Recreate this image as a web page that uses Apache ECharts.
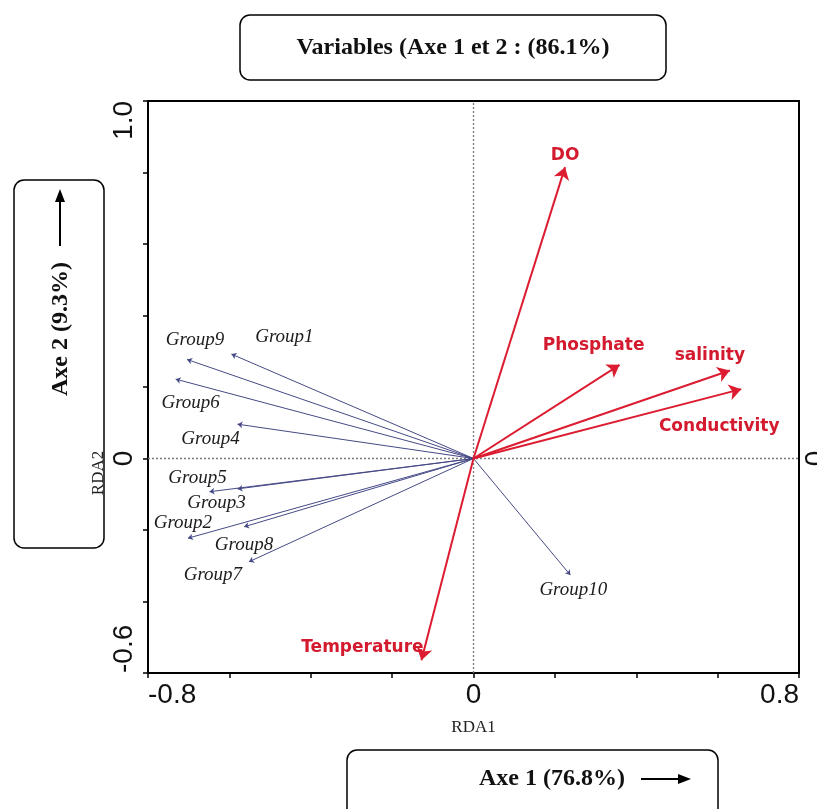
<!DOCTYPE html>
<html>
<head>
<meta charset="utf-8">
<script src="https://cdn.jsdelivr.net/npm/echarts@6/dist/echarts.min.js"></script>
<style>
  html, body { margin: 0; padding: 0; background: #fff; }
  #chart { width: 817px; height: 809px; }
</style>
</head>
<body>
<div id="chart"></div>
<script>
// Environmental variables (red vectors): RDA1, RDA2 loadings
const envNames = ['DO', 'Phosphate', 'salinity', 'Conductivity', 'Temperature'];
const envRDA1  = [0.225, 0.359, 0.630, 0.658, -0.128];
const envRDA2  = [0.815, 0.262, 0.246, 0.194, -0.564];

// Groups (blue vectors): RDA1, RDA2 scores
const groupNames = ['Group1', 'Group9', 'Group6', 'Group4', 'Group5', 'Group3', 'Group2', 'Group8', 'Group7', 'Group10'];
const groupRDA1  = [-0.595, -0.704, -0.732, -0.580, -0.649, -0.580, -0.702, -0.564, -0.552, 0.238];
const groupRDA2  = [0.292, 0.277, 0.222, 0.096, -0.093, -0.085, -0.223, -0.191, -0.289, -0.326];

// Axis ranges and the tick values that carry a label
const xRange = [-0.8, 0.8];
const yRange = [-0.6, 1.0];
const xLabelled = [-0.8, 0, 0.8];
const yLabelled = [-0.6, 0, 1.0];

// Label placement around each arrow tip (pixels)
const envLabelOffset = {
  'DO': [0, -12], 'Phosphate': [-26, -19], 'salinity': [-20, -15],
  'Conductivity': [-22, 37], 'Temperature': [-59, -13]
};
const groupLabelOffset = {
  'Group1': [53, -17], 'Group9': [8, -19], 'Group6': [15, 24], 'Group4': [-27, 15],
  'Group5': [-12, -14], 'Group3': [-21, 14], 'Group2': [-5, -15], 'Group8': [0, 18],
  'Group7': [-36, 13], 'Group10': [3, 15]
};

const RED = '#dc1c30';
const BLUE = '#454a86';

function fmtTick(list, text) {
  return function (v) {
    for (let i = 0; i < list.length; i++) {
      if (Math.abs(v - list[i]) < 1e-9) return text(list[i]);
    }
    return '';
  };
}
const tickText = v => (v === 0 ? '0' : v.toFixed(1));

const chart = echarts.init(document.getElementById('chart'), null, { renderer: 'canvas' });

const envLines = envNames.map((n, i) => ({ coords: [[0, 0], [envRDA1[i], envRDA2[i]]] }));
const groupLines = groupNames.map((n, i) => ({ coords: [[0, 0], [groupRDA1[i], groupRDA2[i]]] }));

const envTips = envNames.map((n, i) => ({
  name: n, value: [envRDA1[i], envRDA2[i]],
  label: { offset: envLabelOffset[n] }
}));
const groupTips = groupNames.map((n, i) => ({
  name: n, value: [groupRDA1[i], groupRDA2[i]],
  label: { offset: groupLabelOffset[n] }
}));

const axisLabelFont = { fontFamily: 'Liberation Sans', fontSize: 28, color: '#111' };

const option = {
  backgroundColor: '#fff',
  animation: false,
  grid: { left: 148, right: 18, top: 101, bottom: 136, containLabel: false, outerBoundsMode: 'none',
          show: true, borderColor: '#000', borderWidth: 2 },
  xAxis: [{
    type: 'value', min: xRange[0], max: xRange[1], interval: 0.2, position: 'bottom',
    axisLine: { show: true, onZero: false, lineStyle: { color: '#000', width: 2 } },
    axisTick: { show: true, length: 5, lineStyle: { color: '#000', width: 1.5 } },
    splitLine: { show: false },
    axisLabel: Object.assign({
      margin: 8, formatter: fmtTick(xLabelled, tickText),
      alignMinLabel: 'left', alignMaxLabel: 'right', showMinLabel: true, showMaxLabel: true
    }, axisLabelFont),
    name: 'RDA1', nameLocation: 'middle', nameGap: 46, nameMoveOverlap: false,
    nameTextStyle: { fontFamily: 'Liberation Serif', fontSize: 17, color: '#222' }
  }],
  yAxis: [{
    type: 'value', min: yRange[0], max: yRange[1], interval: 0.2, position: 'left',
    axisLine: { show: true, onZero: false, lineStyle: { color: '#000', width: 2 } },
    axisTick: { show: true, length: 5, lineStyle: { color: '#000', width: 1.5 } },
    splitLine: { show: false },
    axisLabel: Object.assign({
      margin: 10, rotate: 90, formatter: fmtTick(yLabelled, tickText),
      alignMinLabel: 'left', alignMaxLabel: 'right', showMinLabel: true, showMaxLabel: true
    }, axisLabelFont),
    name: 'RDA2', nameLocation: 'middle', nameRotate: 90, nameGap: 41, nameMoveOverlap: false,
    nameTextStyle: { fontFamily: 'Liberation Serif', fontSize: 17, color: '#222', padding: [0, 172, 0, 0] }
  }, {
    type: 'value', min: yRange[0], max: yRange[1], interval: 0.2, position: 'right',
    axisLine: { show: true, onZero: false, lineStyle: { color: '#000', width: 2 } },
    axisTick: { show: false },
    splitLine: { show: false },
    axisLabel: Object.assign({
      margin: 3, rotate: 90, formatter: fmtTick([0], tickText)
    }, axisLabelFont)
  }],
  series: [
    { // dotted reference lines through the origin
      type: 'line', silent: true, symbol: 'none', data: [[0, yRange[0]], [0, yRange[1]]],
      lineStyle: { color: '#7a7a7a', width: 1.3, type: [2, 2] }, z: 1
    },
    {
      type: 'line', silent: true, symbol: 'none', data: [[xRange[0], 0], [xRange[1], 0]],
      lineStyle: { color: '#7a7a7a', width: 1.3, type: [2, 2] }, z: 1
    },
    { // group vectors
      type: 'lines', coordinateSystem: 'cartesian2d', silent: true,
      symbol: ['none', 'arrow'], symbolSize: 5,
      lineStyle: { color: BLUE, width: 1, opacity: 1 },
      data: groupLines, z: 2
    },
    { // environmental vectors
      type: 'lines', coordinateSystem: 'cartesian2d', silent: true,
      symbol: ['none', 'arrow'], symbolSize: [8, 12],
      lineStyle: { color: RED, width: 2, opacity: 1 },
      data: envLines, z: 3
    },
    { // group names
      type: 'scatter', symbolSize: 0, silent: true, data: groupTips, z: 4,
      itemStyle: { color: '#1c1c1c', opacity: 1 },
      label: { show: true, position: 'inside', formatter: '{b}', opacity: 1,
               textBorderWidth: 0, textShadowBlur: 0,
               fontFamily: 'Liberation Serif', fontStyle: 'italic', fontSize: 19, color: '#1c1c1c' }
    },
    { // variable names
      type: 'scatter', symbolSize: 0, silent: true, data: envTips, z: 4,
      itemStyle: { color: '#d41a2e', opacity: 1 },
      label: { show: true, position: 'inside', formatter: '{b}', opacity: 1,
               textBorderWidth: 0, textShadowBlur: 0,
               fontFamily: 'DejaVu Sans', fontWeight: 'bold', fontSize: 17, color: '#d41a2e' }
    }
  ],
  graphic: [
    // title box
    { type: 'rect', shape: { x: 240, y: 15, width: 426, height: 65, r: 10 },
      style: { fill: '#fff', stroke: '#000', lineWidth: 1.5 } },
    { type: 'text', x: 453, y: 48,
      style: { text: 'Variables (Axe 1 et 2 : (86.1%)', font: 'bold 24px "Liberation Serif"', fill: '#111',
               textAlign: 'center', textVerticalAlign: 'middle', align: 'center', verticalAlign: 'middle' } },
    // vertical axis caption box
    { type: 'rect', shape: { x: 14, y: 180, width: 90, height: 368, r: 10 },
      style: { fill: '#fff', stroke: '#000', lineWidth: 1.5 } },
    { type: 'text', x: 61, y: 329, rotation: Math.PI / 2,
      style: { text: 'Axe 2 (9.3%)', font: 'bold 24px "Liberation Serif"', fill: '#111',
               textAlign: 'center', textVerticalAlign: 'middle', align: 'center', verticalAlign: 'middle' } },
    { type: 'line', shape: { x1: 60, y1: 246, x2: 60, y2: 200 }, style: { stroke: '#000', lineWidth: 2 } },
    { type: 'polygon', shape: { points: [[60, 189], [55, 202], [65, 202]] }, style: { fill: '#000' } },
    // horizontal axis caption box
    { type: 'rect', shape: { x: 347, y: 750, width: 371, height: 80, r: 10 },
      style: { fill: '#fff', stroke: '#000', lineWidth: 1.5 } },
    { type: 'text', x: 552, y: 779,
      style: { text: 'Axe 1 (76.8%)', font: 'bold 24px "Liberation Serif"', fill: '#111',
               textAlign: 'center', textVerticalAlign: 'middle', align: 'center', verticalAlign: 'middle' } },
    { type: 'line', shape: { x1: 641, y1: 779, x2: 680, y2: 779 }, style: { stroke: '#000', lineWidth: 2 } },
    { type: 'polygon', shape: { points: [[691, 779], [678, 774], [678, 784]] }, style: { fill: '#000' } }
  ]
};

chart.setOption(option);
</script>
</body>
</html>
